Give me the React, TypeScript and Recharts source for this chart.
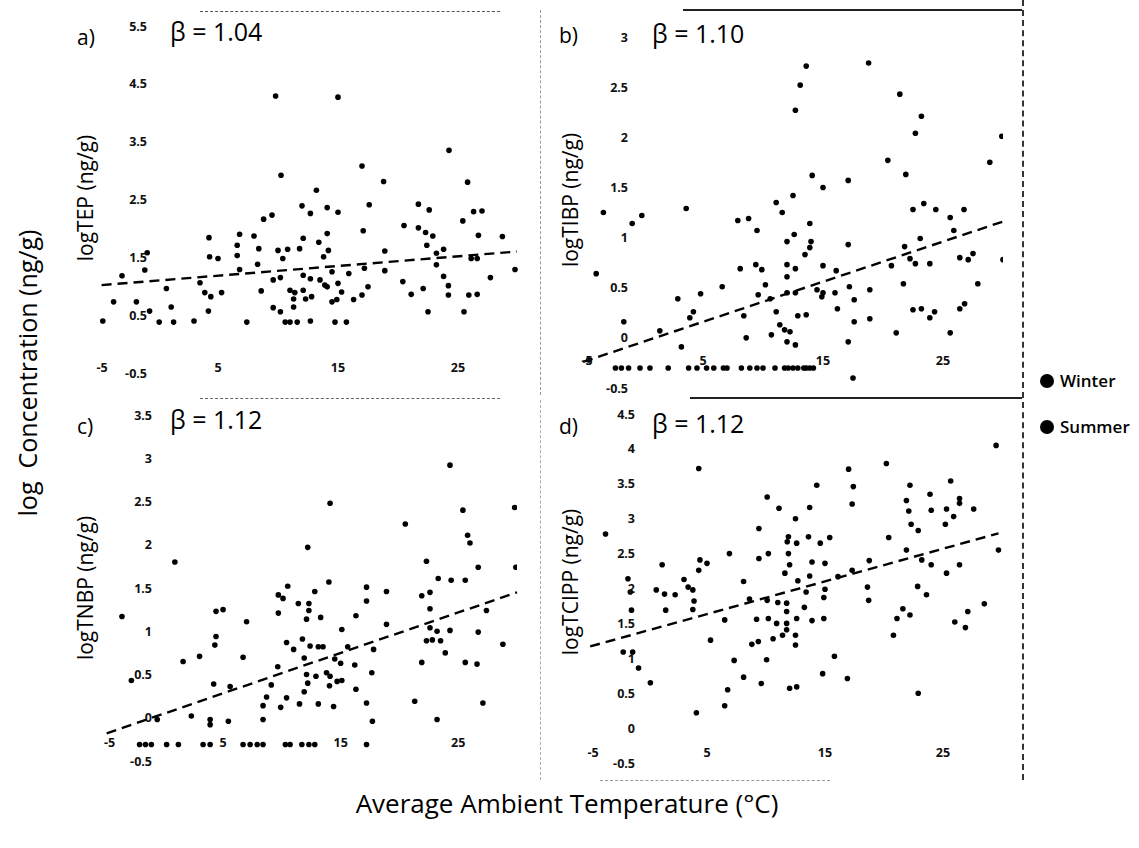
import React from 'react';
import { ScatterChart, Scatter, XAxis, YAxis, ReferenceLine } from 'recharts';

// ---------- data ----------
const xTicks = [-5, 5, 15, 25];
const aTicks = [-0.5, 0.5, 1.5, 2.5, 3.5, 4.5, 5.5];
const bTicks = [-0.5, 0, 0.5, 1, 1.5, 2, 2.5, 3];
const cTicks = [-0.5, 0, 0.5, 1, 1.5, 2, 2.5, 3, 3.5];
const dTicks = [-0.5, 0, 0.5, 1, 1.5, 2, 2.5, 3, 3.5, 4, 4.5];

const legendItems = ['Winter', 'Summer'];

// a) TEP
const aTemp = [-4.6, -3.7, -3.0, -1.8, -1.1, -0.9, -0.7, 0.1, 0.7, 1.1, 1.3, 3.0, 3.5, 3.9, 4.2, 4.25, 4.3, 4.4, 5.0, 5.3, 6.6, 6.6, 6.8, 6.8, 7.4, 8.0, 8.3, 8.4, 8.6, 8.8, 9.5, 9.6, 9.6, 9.8, 10.0, 10.2, 10.2, 10.25, 10.4, 10.6, 10.8, 11.0, 11.0, 11.3, 11.3, 11.4, 11.6, 11.8, 12.0, 12.1, 12.1, 12.1, 12.3, 12.7, 12.7, 12.7, 12.8, 13.2, 13.4, 13.5, 13.8, 13.9, 14.1, 14.1, 14.1, 14.2, 14.5, 14.5, 14.75, 14.9, 15.0, 15.0, 15.0, 15.3, 15.7, 15.9, 16.3, 17.0, 17.0, 17.1, 17.2, 17.5, 17.6, 18.8, 18.9, 18.9, 20.4, 20.5, 21.1, 21.7, 21.7, 22.1, 22.3, 22.4, 22.5, 22.6, 22.9, 23.2, 23.2, 23.8, 23.8, 24.2, 24.2, 24.25, 25.4, 25.5, 25.8, 25.9, 26.1, 26.3, 26.6, 26.6, 26.7, 27.0, 27.7, 28.7, 29.75];
const aLog = [0.40, 0.73, 1.18, 0.73, 1.28, 1.58, 0.57, 0.38, 0.96, 0.64, 0.38, 0.40, 1.06, 0.89, 0.57, 1.84, 1.51, 0.82, 1.48, 0.89, 1.71, 1.53, 1.90, 1.29, 0.38, 1.87, 1.38, 1.65, 0.92, 2.16, 2.23, 1.11, 0.63, 4.29, 1.62, 0.56, 1.15, 2.92, 1.48, 0.38, 1.64, 0.38, 0.93, 0.78, 0.64, 0.89, 0.38, 1.65, 2.39, 1.83, 1.19, 0.93, 0.78, 2.26, 1.13, 0.40, 0.82, 2.66, 1.76, 1.11, 1.51, 1.02, 2.36, 1.91, 0.99, 1.62, 1.25, 0.73, 0.38, 0.77, 4.27, 2.28, 1.05, 0.90, 0.38, 1.22, 0.77, 3.08, 0.85, 1.96, 1.31, 0.99, 2.41, 2.81, 1.61, 1.27, 1.08, 2.05, 0.86, 2.42, 2.01, 0.96, 1.93, 1.71, 0.56, 2.32, 1.87, 1.57, 1.37, 1.64, 1.17, 1.01, 0.85, 3.35, 2.13, 0.56, 2.80, 0.85, 1.48, 2.29, 0.86, 1.48, 1.88, 2.30, 1.15, 1.86, 1.29];
const aTrendTemp = [-4.7, 29.9];
const aTrendLog = [1.02, 1.60];

// b) TIBP
const bTemp = [-4.5, -3.9, -3.3, -2.3, -1.8, -1.6, -1.2, -0.9, -0.25, -0.1, 0.58, 1.4, 2.1, 2.9, 3.2, 3.6, 3.8, 3.9, 4.2, 4.5, 4.8, 5.3, 5.9, 6.6, 6.7, 7.0, 7.9, 8.1, 8.2, 8.4, 8.6, 8.8, 8.9, 9.4, 9.5, 9.5, 9.6, 9.9, 10.0, 10.2, 10.6, 10.7, 11.0, 11.1, 11.1, 11.4, 11.6, 11.8, 11.8, 12.0, 12.0, 12.0, 12.0, 12.0, 12.1, 12.25, 12.5, 12.5, 12.6, 12.7, 12.7, 12.7, 12.7, 12.9, 12.9, 13.1, 13.4, 13.5, 13.6, 13.6, 13.6, 13.9, 13.9, 13.9, 14.0, 14.1, 14.2, 14.5, 14.9, 15.0, 15.0, 15.0, 16.0, 16.1, 16.2, 17.1, 17.1, 17.1, 17.2, 17.5, 17.6, 17.6, 18.8, 18.9, 18.9, 20.4, 20.7, 21.1, 21.4, 21.7, 21.8, 21.9, 22.25, 22.5, 22.5, 22.7, 22.7, 23.1, 23.2, 23.2, 23.4, 23.9, 23.9, 24.3, 24.4, 25.6, 25.6, 25.9, 26.4, 26.4, 26.75, 26.8, 27.1, 27.5, 27.9, 28.9, 29.9, 30.0];
const bLog = [-0.22, 0.64, 1.25, -0.30, -0.30, 0.16, -0.30, 1.14, -0.30, 1.22, -0.30, 0.07, -0.30, 0.39, -0.09, 1.29, -0.30, 0.20, 0.26, -0.30, 0.44, -0.30, -0.30, 0.51, -0.30, -0.30, 1.17, 0.69, -0.30, 0.22, 0.00, 1.19, -0.30, 0.73, 1.07, -0.30, 0.43, 0.68, -0.30, 0.53, 0.39, 0.03, -0.30, 1.35, 0.26, 0.13, 1.25, 0.08, -0.30, 0.96, 0.73, 0.61, 0.45, -0.04, -0.30, 0.06, 1.42, -0.30, 1.03, 2.27, 0.69, 0.45, -0.07, 0.22, -0.30, 2.52, -0.30, 0.83, 2.71, 0.23, -0.30, 1.14, 0.90, -0.30, 0.96, 1.62, -0.30, 0.48, 0.41, 1.50, 0.72, 0.45, 0.45, 0.67, 0.29, 1.57, 0.93, -0.04, 0.51, -0.40, 0.38, 0.16, 2.74, 0.48, 0.19, 1.77, 0.72, 0.05, 2.43, 0.54, 0.91, 1.63, 0.79, 1.28, 0.28, 2.04, 0.74, 0.99, 2.21, 0.29, 1.34, 0.74, 0.20, 0.26, 1.28, 1.20, 0.05, 1.07, 0.80, 0.29, 1.28, 0.34, 0.78, 0.84, 0.54, 1.75, 2.01, 0.78];
const bTrendTemp = [-5.0, 30.0];
const bTrendLog = [-0.24, 1.16];

// c) TNBP
const cTemp = [-3.6, -2.8, -2.1, -1.6, -1.1, -0.6, 0.2, 0.9, 1.2, 1.6, 2.3, 3.0, 3.3, 3.9, 3.9, 3.9, 4.2, 4.3, 4.4, 4.4, 5.0, 5.45, 5.6, 6.7, 6.7, 7.0, 7.3, 7.9, 8.4, 8.4, 8.4, 8.7, 9.1, 9.65, 9.7, 9.7, 9.9, 10.1, 10.3, 10.4, 10.4, 10.5, 10.7, 11.0, 11.4, 11.5, 11.7, 11.75, 11.9, 11.9, 12.1, 12.1, 12.2, 12.2, 12.3, 12.3, 12.3, 12.4, 12.8, 12.8, 12.9, 13.1, 13.1, 13.3, 13.5, 13.8, 14.0, 14.05, 14.1, 14.1, 14.4, 14.5, 14.7, 15.0, 15.1, 15.1, 15.6, 16.2, 16.3, 16.3, 17.2, 17.2, 17.2, 17.2, 17.65, 17.7, 17.8, 18.9, 18.9, 20.5, 21.3, 21.9, 21.9, 22.3, 22.3, 22.6, 22.6, 22.6, 22.8, 23.2, 23.2, 23.3, 23.5, 23.9, 24.3, 24.3, 24.4, 25.4, 25.6, 25.6, 25.8, 26.0, 26.6, 26.7, 26.7, 27.1, 27.4, 28.8, 29.8, 29.9];
const cLog = [1.17, 0.43, -0.31, -0.31, -0.31, -0.02, -0.31, 1.80, -0.31, 0.65, 0.02, 0.71, -0.31, -0.02, -0.08, -0.31, 0.39, 0.84, 0.94, 1.23, 1.25, -0.04, 0.36, 0.70, -0.31, 1.11, -0.31, -0.31, 0.14, -0.02, -0.31, 0.24, 0.38, 0.59, 1.42, 1.21, 0.12, 1.38, -0.31, 0.87, 0.23, 1.52, -0.31, 0.79, 1.32, 0.16, -0.31, 0.91, 0.69, 0.30, 1.14, 0.50, 1.97, 0.40, 1.32, 1.24, -0.31, 0.83, 1.46, -0.31, 0.48, 0.82, 0.16, 1.16, 0.82, 0.52, 1.57, 0.37, 2.48, 0.48, 0.13, 0.68, 0.42, 0.63, 1.02, 0.43, 0.82, 0.61, 1.18, 0.33, 1.51, 1.35, 0.17, -0.31, 0.52, -0.04, 0.79, 1.46, 1.08, 2.24, 0.19, 1.41, 0.64, 1.81, 0.89, 1.45, 1.26, 1.04, 0.90, 1.00, -0.02, 1.61, 0.89, 0.75, 2.92, 1.01, 1.59, 2.40, 1.59, 0.64, 2.11, 2.02, 0.62, 1.74, 0.99, 0.17, 1.24, 0.85, 2.43, 1.74];
const cTrendTemp = [-4.9, 30.0];
const cTrendLog = [-0.18, 1.45];

// d) TCIPP
const dTemp = [-3.6, -2.1, -1.7, -1.5, -1.4, -1.3, -0.8, 0.2, 0.7, 1.2, 1.4, 1.5, 2.3, 3.05, 3.4, 3.8, 3.8, 3.9, 4.1, 4.3, 4.3, 4.4, 5.0, 5.3, 6.5, 6.5, 6.75, 6.9, 7.3, 8.1, 8.1, 8.6, 8.8, 9.2, 9.35, 9.4, 9.4, 9.6, 10.05, 10.1, 10.1, 10.2, 10.2, 10.6, 10.9, 11.0, 11.1, 11.4, 11.6, 11.75, 11.75, 11.75, 11.75, 11.8, 11.9, 11.9, 12.0, 12.0, 12.5, 12.5, 12.5, 12.6, 12.6, 12.6, 12.7, 13.25, 13.4, 13.6, 13.7, 13.7, 13.9, 13.9, 14.3, 14.6, 14.8, 14.9, 14.9, 15.0, 15.0, 15.4, 15.8, 16.1, 16.9, 17.0, 17.3, 17.3, 17.4, 18.6, 18.7, 18.75, 20.2, 20.4, 20.8, 21.1, 21.6, 21.9, 21.9, 22.1, 22.2, 22.2, 22.3, 22.85, 22.9, 22.9, 23.2, 23.6, 23.9, 24.0, 24.0, 25.2, 25.3, 25.3, 25.65, 25.9, 26.0, 26.4, 26.4, 26.4, 26.9, 27.1, 27.6, 28.5, 29.5, 29.7];
const dLog = [2.78, 1.09, 2.14, 1.95, 1.69, 1.09, 0.86, 0.65, 1.98, 2.34, 1.92, 1.69, 1.91, 2.13, 2.02, 1.98, 1.70, 1.82, 0.22, 3.72, 2.26, 2.41, 2.36, 1.26, 1.55, 0.32, 0.55, 2.50, 0.97, 2.10, 0.73, 1.85, 1.20, 1.56, 1.24, 2.86, 2.43, 0.64, 0.98, 3.31, 1.83, 2.50, 1.57, 1.28, 1.50, 1.80, 3.15, 1.33, 2.22, 1.79, 1.67, 1.50, 1.41, 2.67, 2.74, 2.50, 2.34, 0.57, 3.00, 1.33, 1.19, 2.65, 1.57, 0.59, 2.11, 1.73, 1.95, 2.74, 3.16, 2.18, 2.38, 1.54, 3.48, 2.65, 0.78, 1.87, 1.57, 2.36, 1.99, 2.73, 1.03, 2.17, 0.71, 3.71, 3.21, 2.26, 3.46, 2.02, 1.83, 2.40, 3.79, 2.73, 1.33, 1.57, 1.71, 3.26, 2.55, 3.11, 3.48, 1.62, 2.92, 2.03, 2.83, 0.50, 2.41, 1.91, 3.35, 3.12, 2.34, 2.92, 3.14, 2.22, 3.54, 3.03, 1.52, 3.29, 3.22, 2.34, 1.44, 1.67, 3.14, 1.78, 4.05, 2.55];
const dTrendTemp = [-4.9, 29.7];
const dTrendLog = [1.17, 2.79];

// ---------- helpers ----------
const toPoints = (t: number[], v: number[]) => t.map((x, i) => ({ t: x, v: v[i] }));

const tickFont = "'Open Sans', 'Noto Sans', Arial, sans-serif";
const mainFont = "'Open Sans', 'Noto Sans', sans-serif";

const Dot = (p: any) => <circle cx={p.cx} cy={p.cy} r={2.8} fill="#000" />;

type PanelCfg = {
  key: string;
  letter: string;
  beta: string;
  yTitle: string;
  temp: number[];
  logv: number[];
  trendT: number[];
  trendV: number[];
  yTicks: number[];
  left: number;
  top: number;
  w: number;
  h: number;
  margin: { top: number; right: number; bottom: number; left: number };
  yShift: number;
  xDy: number;
};

const Y_AXIS_W = 30;
const X_AXIS_H = 10;

const panels: PanelCfg[] = [
  { key: 'a', letter: 'a)', beta: 'β = 1.04', yTitle: 'logTEP (ng/g)', temp: aTemp, logv: aLog, trendT: aTrendTemp, trendV: aTrendLog, yTicks: aTicks,
    left: 60, top: 0, w: 480, h: 395, margin: { top: 26, right: 22, bottom: 12, left: 8 }, yShift: 49, xDy: -6 },
  { key: 'b', letter: 'b)', beta: 'β = 1.10', yTitle: 'logTIBP (ng/g)', temp: bTemp, logv: bLog, trendT: bTrendTemp, trendV: bTrendLog, yTicks: bTicks,
    left: 540, top: 0, w: 480, h: 400, margin: { top: 37, right: 17, bottom: 2, left: 13 }, yShift: 45, xDy: -28 },
  { key: 'c', letter: 'c)', beta: 'β = 1.12', yTitle: 'logTNBP (ng/g)', temp: cTemp, logv: cLog, trendT: cTrendTemp, trendV: cTrendLog, yTicks: cTicks,
    left: 60, top: 395, w: 480, h: 395, margin: { top: 20, right: 23, bottom: 19, left: 15.5 }, yShift: 46.5, xDy: -19 },
  { key: 'd', letter: 'd)', beta: 'β = 1.12', yTitle: 'logTCIPP (ng/g)', temp: dTemp, logv: dLog, trendT: dTrendTemp, trendV: dTrendLog, yTicks: dTicks,
    left: 540, top: 395, w: 480, h: 395, margin: { top: 19, right: 18, bottom: 17, left: 19 }, yShift: 46, xDy: -11 },
];

const Panel = ({ cfg }: { cfg: PanelCfg }) => {
  const data = toPoints(cfg.temp, cfg.logv);
  const yMin = cfg.yTicks[0];
  const yMax = cfg.yTicks[cfg.yTicks.length - 1];
  const YTick = (p: any) => (
    <text x={p.x + cfg.yShift} y={p.y} textAnchor="end" dominantBaseline="central"
      style={{ fontFamily: tickFont, fontSize: 12.5, fontWeight: 700, fill: '#111' }}>
      {p.payload.value}
    </text>
  );
  const XTick = (p: any) => (
    <text x={p.x + (p.payload.value === -5 ? 4 : 0)} y={p.y + cfg.xDy} textAnchor="middle" dominantBaseline="central"
      style={{ fontFamily: tickFont, fontSize: 12.5, fontWeight: 700, fill: '#111' }}>
      {p.payload.value}
    </text>
  );
  return (
    <div style={{ position: 'absolute', left: cfg.left, top: cfg.top }}>
      <ScatterChart width={cfg.w} height={cfg.h} margin={cfg.margin}>
        <XAxis type="number" dataKey="t" domain={[-5, 30]} allowDataOverflow ticks={xTicks} interval={0}
          height={X_AXIS_H} axisLine={false} tickLine={false} tickSize={0} tickMargin={0} tick={XTick} />
        <YAxis type="number" dataKey="v" domain={[yMin, yMax]} allowDataOverflow ticks={cfg.yTicks} interval={0}
          width={Y_AXIS_W} axisLine={false} tickLine={false} tickSize={0} tickMargin={0} tick={YTick} />
        <ReferenceLine
          segment={[{ x: cfg.trendT[0], y: cfg.trendV[0] }, { x: cfg.trendT[1], y: cfg.trendV[1] }]}
          stroke="#000" strokeWidth={2.4} strokeDasharray="10 6" ifOverflow="visible" />
        <Scatter data={data} shape={Dot} isAnimationActive={false} />
      </ScatterChart>
    </div>
  );
};

const labelPos: Record<string, { letter: [number, number]; beta: [number, number]; title: [number, number] }> = {
  a: { letter: [77, 27], beta: [170, 19], title: [85, 198] },
  b: { letter: [559, 25], beta: [652, 21], title: [570, 200] },
  c: { letter: [77, 416], beta: [170, 407], title: [85, 588] },
  d: { letter: [559, 416], beta: [652, 411], title: [570, 582] },
};

const abs = (left: number, top: number, extra: React.CSSProperties = {}): React.CSSProperties => ({
  position: 'absolute', left, top, whiteSpace: 'nowrap', lineHeight: 1, ...extra,
});

export default function App() {
  return (
    <div style={{ position: 'absolute', left: 0, top: 0, width: 1139, height: 848, background: '#fff', overflow: 'hidden', fontFamily: mainFont, color: '#000' }}>
      {/* faint panel frames */}
      <div style={abs(200, 11, { width: 300, borderTop: '1.5px dashed #555' })} />
      <div style={abs(540, 10, { height: 385, borderLeft: '1px dashed #999' })} />
      <div style={abs(683, 9, { width: 339, borderTop: '2px solid #222' })} />
      <div style={abs(1022, 0, { height: 780, borderLeft: '2px dashed #333' })} />
      <div style={abs(690, 397, { width: 332, borderTop: '2px solid #222' })} />
      <div style={abs(200, 398, { width: 300, borderTop: '1.5px dashed #666' })} />
      <div style={abs(540, 400, { height: 380, borderLeft: '1px dashed #aaa' })} />
      <div style={abs(600, 780, { width: 230, borderTop: '1px dashed #999' })} />

      {panels.map((p) => (
        <Panel key={p.key} cfg={p} />
      ))}

      {panels.map((p) => {
        const pos = labelPos[p.key];
        return (
          <React.Fragment key={'t' + p.key}>
            <div style={abs(pos.letter[0], pos.letter[1], { fontSize: 21 })}>{p.letter}</div>
            <div style={abs(pos.beta[0], pos.beta[1], { fontSize: 25 })}>{p.beta}</div>
            <div style={abs(pos.title[0], pos.title[1], { fontSize: 21, transform: 'translate(-50%, -50%) rotate(-90deg)' })}>{p.yTitle}</div>
          </React.Fragment>
        );
      })}

      <div style={abs(27, 373, { fontSize: 25, transform: 'translate(-50%, -50%) rotate(-90deg)' })}>log&nbsp;&nbsp;Concentration (ng/g)</div>
      <div style={abs(567, 803, { fontSize: 26, transform: 'translate(-50%, -50%)' })}>Average Ambient Temperature (°C)</div>

      {legendItems.map((name, i) => (
        <div key={name} style={abs(1040, 372 + i * 46, { fontSize: 17, fontWeight: 600, display: 'flex', alignItems: 'center' })}>
          <span style={{ display: 'inline-block', width: 14, height: 14, borderRadius: '50%', background: '#000', marginRight: 6 }} />
          {name}
        </div>
      ))}
    </div>
  );
}
